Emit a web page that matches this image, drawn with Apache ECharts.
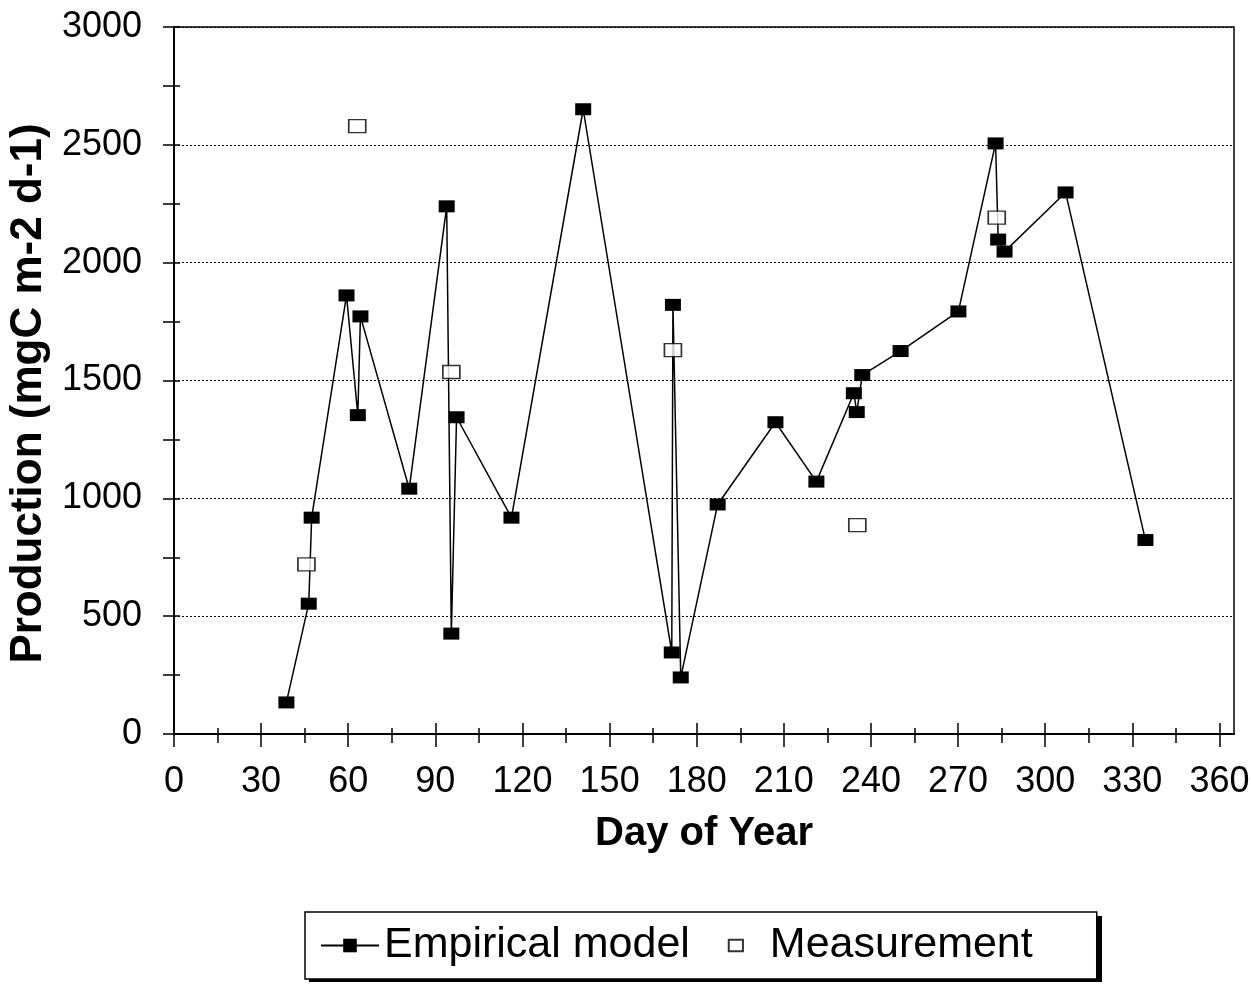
<!DOCTYPE html>
<html>
<head>
<meta charset="utf-8">
<script src="https://cdn.jsdelivr.net/npm/echarts@6/dist/echarts.min.js"></script>
<style>
html,body{margin:0;padding:0;background:#fff;}
#chart{width:1251px;height:984px;}
</style>
</head>
<body>
<div id="chart"></div>
<script>
// Empirical model (filled squares joined by line)
const modelDay  = [38.7, 46.4, 47.4, 59.4, 63.3, 64.2, 81.0, 93.9, 95.5, 97.3, 116.2, 140.9, 171.4, 171.8, 174.5, 187.2, 207.1, 221.2, 234.1, 235.1, 237.0, 250.2, 270.1, 282.9, 283.8, 286.0, 307.0, 334.5];
const modelProd = [134, 553, 918, 1861, 1353, 1772, 1041, 2239, 426, 1344, 918, 2651, 346, 1821, 240, 974, 1323, 1071, 1446, 1366, 1523, 1625, 1793, 2506, 2098, 2047, 2298, 823];
// Measurement (open squares)
const measDay  = [45.6, 63.1, 95.5, 171.8, 235.3, 283.3];
const measProd = [720, 2579, 1536, 1629, 886, 2191];
// Axis ticks / labels
const xMajor = [0, 30, 60, 90, 120, 150, 180, 210, 240, 270, 300, 330, 360];
const xMinor = [15, 45, 75, 105, 135, 165, 195, 225, 255, 285, 315, 345];
const yLabels = [0, 500, 1000, 1500, 2000, 2500, 3000];
const yTicks = [0, 250, 500, 750, 1000, 1250, 1500, 1750, 2000, 2250, 2500, 2750, 3000];

const FONT = "'Liberation Sans', Arial, sans-serif";
const chart = echarts.init(document.getElementById('chart'));

function xAx(extra) {
  return Object.assign({
    type: 'value', min: 0, max: 365, position: 'bottom', offset: 0,
    axisLine: { show: false }, axisLabel: { show: false }, splitLine: { show: false },
    axisTick: { show: false }
  }, extra);
}
function yAx(extra) {
  return Object.assign({
    type: 'value', min: 0, max: 3000, position: 'left', offset: 0,
    axisLine: { show: false }, axisLabel: { show: false }, splitLine: { show: false },
    axisTick: { show: false }
  }, extra);
}

chart.setOption({
  animation: false,
  backgroundColor: '#fff',
  grid: { left: 174, right: 17, top: 27, bottom: 250, containLabel: false, outerBoundsMode: 'none',
          show: true, borderColor: '#000', borderWidth: 1.5, backgroundColor: 'transparent' },
  graphic: [
    { type: 'rect', left: 309, top: 916, shape: { width: 793, height: 66 }, style: { fill: '#000' }, z: 0, silent: true }
  ],
  xAxis: [
    xAx({
      axisLine: { show: true, lineStyle: { color: '#000', width: 2 } },
      axisTick: { show: true, customValues: xMajor, length: 13, lineStyle: { color: '#000', width: 1.5 } },
      axisLabel: { show: true, customValues: xMajor, fontSize: 36, margin: 30, color: '#000', fontFamily: FONT },
      name: 'Day of Year', nameLocation: 'middle', nameGap: 80,
      nameTextStyle: { fontSize: 40, fontWeight: 'bold', color: '#000', fontFamily: FONT }
    }),
    xAx({ axisTick: { show: true, customValues: xMinor, length: 9, lineStyle: { color: '#000', width: 1.5 } } }),
    xAx({ axisTick: { show: true, inside: true, customValues: xMajor, length: 11, lineStyle: { color: '#000', width: 1.5 } } }),
    xAx({ axisTick: { show: true, inside: true, customValues: xMinor, length: 6, lineStyle: { color: '#000', width: 1.5 } } })
  ],
  yAxis: [
    yAx({
      axisLine: { show: true, lineStyle: { color: '#000', width: 2 } },
      axisTick: { show: true, customValues: yTicks, length: 11, lineStyle: { color: '#000', width: 1.5 } },
      axisLabel: { show: true, customValues: yLabels, fontSize: 36, margin: 32, color: '#000', fontFamily: FONT,
                   formatter: v => String(v) },
      name: 'Production (mgC m-2 d-1)', nameLocation: 'middle', nameGap: 119,
      nameTextStyle: { fontSize: 44, fontWeight: 'bold', color: '#000', fontFamily: FONT, padding: [0, 26, 0, 0] }
    }),
    yAx({ interval: 500, splitLine: { show: true, lineStyle: { color: '#000', width: 1, type: [2, 2] } } }),
    yAx({ axisTick: { show: true, inside: true, customValues: yTicks, length: 6, lineStyle: { color: '#000', width: 1.5 } } })
  ],
  legend: {
    left: 305, top: 912, z: 10,
    orient: 'horizontal',
    itemWidth: 58, itemHeight: 17, itemGap: 36,
    padding: [12, 64, 12, 15],
    borderColor: '#000', borderWidth: 1.5, backgroundColor: '#fff',
    textStyle: { fontSize: 43, color: '#000', fontFamily: FONT },
    data: [
      { name: 'Empirical model' },
      { name: 'Measurement', icon: 'path://M-2,-3M0,0L15,0L15,12L0,12ZM17,15' }
    ]
  },
  series: [
    {
      name: 'Empirical model', type: 'line', xAxisIndex: 0, yAxisIndex: 0,
      data: modelDay.map((d, i) => [d, modelProd[i]]),
      symbol: 'rect', symbolSize: [16, 12], showAllSymbol: true,
      itemStyle: { color: '#000' },
      lineStyle: { color: '#000', width: 1.5 },
      z: 3
    },
    {
      name: 'Measurement', type: 'scatter', xAxisIndex: 0, yAxisIndex: 0,
      data: measDay.map((d, i) => [d, measProd[i]]),
      symbol: 'rect', symbolSize: [17, 13],
      itemStyle: { color: '#fff', borderColor: '#000', borderWidth: 1.5 },
      z: 4
    }
  ]
});
</script>
</body>
</html>
